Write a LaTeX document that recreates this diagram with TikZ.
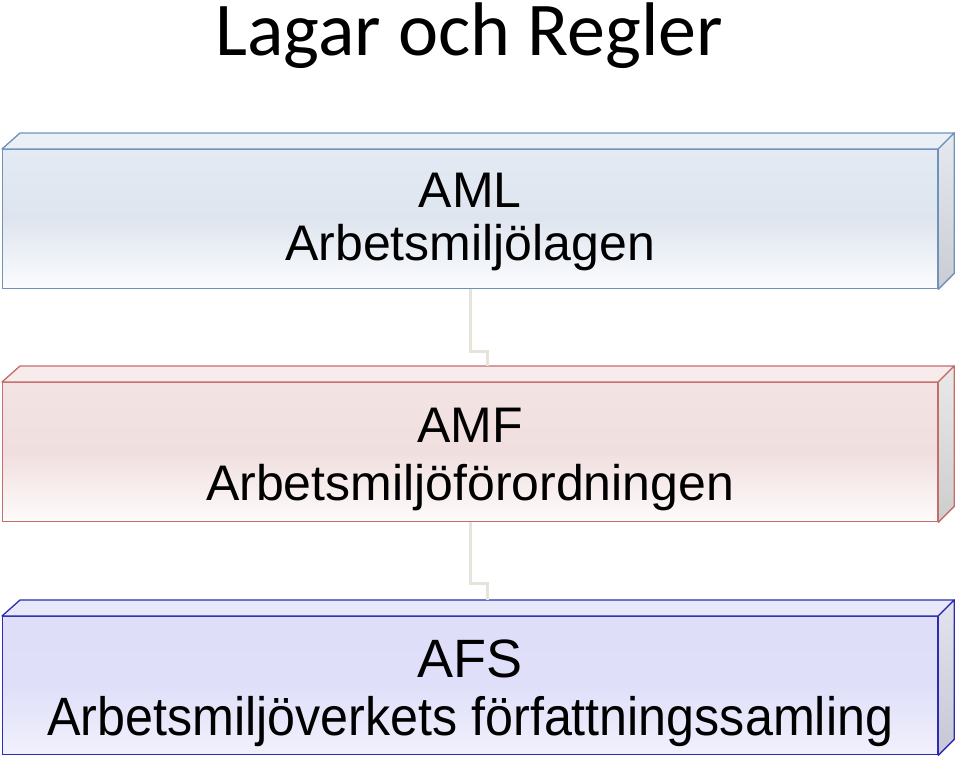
\documentclass[tikz,border=0pt]{standalone}
\usepackage{fontspec}
\setmainfont{Liberation Sans}
\newfontfamily\titlefont{Carlito}
\usetikzlibrary{calc}
\definecolor{bAline}{HTML}{6E92B8}
\definecolor{bAtop}{HTML}{E3EAF4}
\definecolor{bAmid}{HTML}{DFE5EF}
\definecolor{bAbot}{HTML}{FBFCFE}
\definecolor{bAside}{HTML}{E6EAF0}
\definecolor{bAsideb}{HTML}{C9CDD3}
\definecolor{bBline}{HTML}{C46E6C}
\definecolor{bBtop}{HTML}{F3E3E3}
\definecolor{bBmid}{HTML}{F1DFDF}
\definecolor{bBbot}{HTML}{FEFBFB}
\definecolor{bBside}{HTML}{E9E9E9}
\definecolor{bBsideb}{HTML}{CDCDCD}
\definecolor{bCline}{HTML}{2C2CB0}
\definecolor{bCtop}{HTML}{DEDEF9}
\definecolor{bCmid}{HTML}{DFDFF9}
\definecolor{bCbot}{HTML}{F1F1FD}
\definecolor{bCside}{HTML}{E4E4EE}
\definecolor{bCsideb}{HTML}{C6C6D6}
\definecolor{connc}{HTML}{E6E4D8}
\tikzset{
  front/.style={draw, line width=1.3pt, minimum width=935pt, minimum height=139pt,
    anchor=north west, inner sep=0pt},
  boxtext/.style={anchor=base, inner sep=0pt, font=\fontsize{50}{57}\selectfont},
  conn/.style={draw=connc, line width=3pt},
}
\newcommand{\boxfaces}[4]{%
  % #1 node name, #2 line colour, #3 top face colour, #4 side colours prefix
  \fill[#3, draw=#2, line width=1.3pt, line join=round]
    (#1.north west) -- ([shift={(18pt,16pt)}]#1.north west)
    -- ([shift={(16pt,16pt)}]#1.north east) -- (#1.north east) -- cycle;
  \shade[top color=#4, bottom color=#4b, draw=#2, line width=1.3pt, line join=round]
    (#1.north east) -- ([shift={(16pt,16pt)}]#1.north east)
    -- ([shift={(16pt,16pt)}]#1.south east) -- (#1.south east) -- cycle;
}
\begin{document}
\begin{tikzpicture}[x=1pt,y=-1pt]
\useasboundingbox (0,0) rectangle (960,758);
\fill[white] (0,0) rectangle (960,758);

\node[font=\titlefont\fontsize{76}{80}\selectfont, anchor=base, inner sep=0pt] (title) at (469,55) {Lagar och Regler};

% box 1
\node[front, draw=bAline, top color=bAtop, bottom color=bAbot, middle color=bAmid] (aml) at (2,149) {};
\boxfaces{aml}{bAline}{bAtop!70!white}{bAside}
\node[boxtext] (amlA) at ($(aml.north)+(0,58)$) {AML};
\node[boxtext] (amlB) at ($(aml.north)+(0,111)$) {Arbetsmiljölagen};

% box 2
\node[front, draw=bBline, top color=bBtop, bottom color=bBbot, middle color=bBmid] (amf) at (2,382) {};
\boxfaces{amf}{bBline}{bBtop!70!white}{bBside}
\node[boxtext] (amfA) at ($(amf.north)+(0,60)$) {AMF};
\node[boxtext] (amfB) at ($(amf.north)+(0,118)$) {Arbetsmiljöförordningen};

% box 3
\node[front, draw=bCline, top color=bCtop, bottom color=bCbot, middle color=bCmid, minimum height=138pt] (afs) at (2,616) {};
\boxfaces{afs}{bCline}{bCtop!70!white}{bCside}
\node[boxtext, font=\fontsize{54}{58}\selectfont] (afsA) at ($(afs.north)+(0,61)$) {AFS};
\node[boxtext, font=\fontsize{54}{58}\selectfont] (afsB) at ($(afs.north)+(0,119)$)
  {\resizebox{846pt}{\height}{Arbetsmiljöverkets författningssamling}};

% connectors
\coordinate (amfback) at ([shift={(17pt,16pt)}]amf.north);
\coordinate (afsback) at ([shift={(17pt,16pt)}]afs.north);
\draw[conn] (aml.south) -- ++(0pt,-62pt) -| (amfback);
\draw[conn] (amf.south) -- ++(0pt,-61pt) -| (afsback);
\end{tikzpicture}
\end{document}
